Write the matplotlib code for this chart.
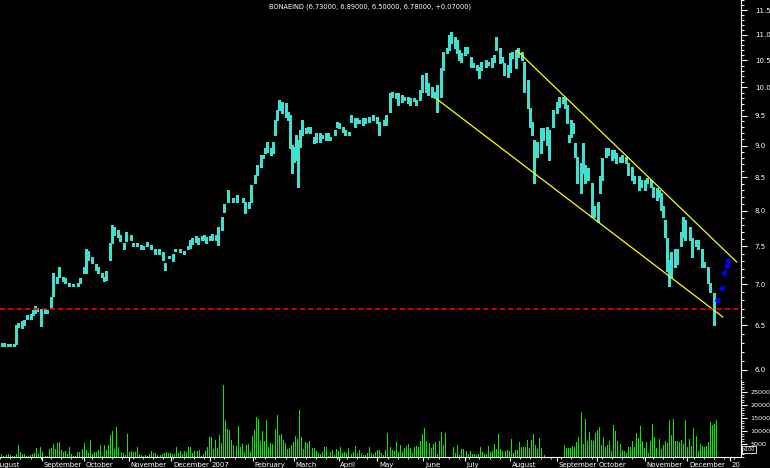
import numpy as np
import matplotlib
matplotlib.use("Agg")
import matplotlib.pyplot as plt
from matplotlib.ticker import FixedLocator, NullFormatter, MultipleLocator

# ==========================================
# DATA
# ==========================================
title = "BONAEIND (6.73000, 6.89000, 6.50000, 6.78000, +0.07000)"

# trading-day number of each price bar, with its high / low
day = [1, 2, 4, 5, 7, 8, 9, 11, 12, 13, 15, 16, 17, 18, 20, 22, 23, 25, 26, 28,
       29, 31, 32, 34, 36, 38, 39, 41, 42, 43, 45, 47, 48, 50, 51, 52, 54, 55, 56, 58,
       59, 61, 62, 64, 65, 67, 69, 70, 72, 74, 76, 78, 80, 81, 83, 85, 86, 88, 90, 92,
       93, 94, 96, 97, 99, 100, 101, 103, 104, 106, 107,
       109, 110, 112, 114, 116, 119, 120, 122, 123, 125, 126, 128, 129, 130, 131, 133, 134, 135, 136, 137,
       138, 140, 141, 142, 143, 144, 145, 146, 147, 148, 150, 151, 152, 154, 155, 157, 158, 160, 161, 162,
       164, 165, 166, 168, 169, 171, 172, 174, 175, 176,
       178, 179, 181, 183, 185, 186, 188, 189, 191, 192, 194, 195, 197, 198, 200, 201, 203, 204, 206, 207,
       209, 210, 212, 213, 214, 216, 217, 219, 220, 221, 223, 224, 225, 226, 228, 229, 231, 232, 234, 235,
       236, 238, 239, 241, 242, 243, 245, 246, 247, 249, 250, 251, 253, 254, 256, 257, 259, 260, 261, 262,
       263, 265, 266, 268, 269,
       271, 273, 274, 276, 277, 278, 279, 280, 281, 282, 283, 285, 286, 287, 288, 290, 291, 293, 294, 295,
       297, 298, 300, 301, 302, 304, 305, 307, 308, 310, 311, 313, 314, 316, 317, 319, 320, 322, 323, 324,
       325, 326, 327, 328, 329, 331, 332, 334, 335, 336, 338, 339, 341, 342, 344, 345, 347, 348, 350]

hi = [6.30, 6.30, 6.29, 6.29, 6.28, 6.51, 6.53, 6.55, 6.56, 6.62, 6.63, 6.68, 6.73, 6.71, 6.70, 6.69, 6.68, 6.84, 7.15, 7.10,
      7.22, 7.09, 7.08, 7.02, 7.01, 7.02, 7.08, 7.22, 7.46, 7.43, 7.35, 7.26, 7.22, 7.15, 7.10, 7.17, 7.55, 7.80, 7.77, 7.73,
      7.66, 7.55, 7.69, 7.65, 7.55, 7.55, 7.52, 7.51, 7.56, 7.52, 7.46, 7.46, 7.42, 7.28, 7.37, 7.39, 7.47, 7.46, 7.44, 7.51,
      7.59, 7.62, 7.64, 7.62, 7.64, 7.66, 7.63, 7.64, 7.67, 7.66, 7.76,
      7.91, 8.09, 8.31, 8.19, 8.23, 8.19, 8.12, 8.13, 8.38, 8.54, 8.69, 8.85, 8.85, 8.96, 9.06, 8.96, 9.06, 9.43, 9.60, 9.78,
      9.74, 9.72, 9.57, 9.51, 9.01, 8.98, 9.18, 9.09, 9.26, 9.43, 9.29, 9.31, 9.31, 9.14, 9.21, 9.21, 9.18, 9.21, 9.21, 9.14,
      9.26, 9.39, 9.38, 9.31, 9.26, 9.22, 9.51, 9.46, 9.46, 9.43,
      9.46, 9.46, 9.48, 9.51, 9.48, 9.39, 9.43, 9.51, 9.90, 9.91, 9.90, 9.90, 9.86, 9.83, 9.83, 9.81, 9.80, 9.78, 9.95, 10.23,
      10.26, 10.08, 10.00, 9.91, 10.04, 10.35, 10.66, 10.74, 10.99, 11.05, 10.95, 10.89, 10.70, 10.64, 10.76, 10.76, 10.56, 10.45, 10.41, 10.37,
      10.47, 10.51, 10.47, 10.55, 10.60, 10.95, 10.74, 10.56, 10.45, 10.41, 10.64, 10.66, 10.70, 10.74, 10.66, 10.47, 10.13, 9.64, 9.39, 9.09,
      9.06, 9.29, 9.29, 9.31, 9.26,
      9.60, 9.74, 9.83, 9.83, 9.81, 9.69, 9.18, 9.43, 9.38, 9.04, 8.82, 8.72, 9.04, 8.69, 8.64, 8.41, 8.06, 8.12, 8.51, 8.80,
      8.96, 8.96, 8.93, 8.93, 8.88, 8.82, 8.85, 8.82, 8.72, 8.66, 8.51, 8.51, 8.46, 8.46, 8.49, 8.46, 8.35, 8.34, 8.31, 8.26,
      8.06, 7.87, 7.62, 7.32, 7.42, 7.46, 7.46, 7.69, 7.91, 7.87, 7.77, 7.62, 7.59, 7.59, 7.46, 7.29, 7.22, 7.02, 6.89]

lo = [6.26, 6.26, 6.26, 6.26, 6.26, 6.29, 6.48, 6.47, 6.50, 6.57, 6.57, 6.62, 6.65, 6.67, 6.49, 6.65, 6.65, 6.72, 6.85, 7.02,
      7.10, 7.04, 7.02, 6.98, 6.98, 6.98, 7.02, 7.15, 7.15, 7.32, 7.28, 7.19, 7.15, 7.09, 7.04, 7.06, 7.32, 7.55, 7.66, 7.63,
      7.57, 7.46, 7.57, 7.59, 7.50, 7.50, 7.47, 7.46, 7.51, 7.46, 7.40, 7.40, 7.32, 7.19, 7.34, 7.30, 7.43, 7.42, 7.40, 7.46,
      7.48, 7.53, 7.56, 7.53, 7.58, 7.59, 7.55, 7.58, 7.59, 7.58, 7.52,
      7.73, 7.98, 8.12, 8.13, 8.12, 8.13, 7.97, 8.04, 8.13, 8.41, 8.54, 8.66, 8.80, 8.88, 8.90, 8.85, 8.88, 9.18, 9.43, 9.60,
      9.55, 9.48, 9.43, 8.96, 8.56, 8.74, 8.77, 8.35, 8.98, 9.18, 9.21, 9.22, 9.21, 9.04, 9.06, 9.06, 9.12, 9.09, 9.09, 9.09,
      9.18, 9.31, 9.29, 9.22, 9.18, 9.18, 9.39, 9.31, 9.38, 9.38,
      9.34, 9.38, 9.39, 9.43, 9.38, 9.18, 9.34, 9.34, 9.56, 9.83, 9.81, 9.69, 9.74, 9.78, 9.72, 9.69, 9.76, 9.69, 9.78, 9.91,
      9.91, 9.86, 9.83, 9.81, 9.56, 9.83, 10.32, 10.64, 10.70, 10.83, 10.74, 10.64, 10.51, 10.47, 10.60, 10.64, 10.37, 10.37, 10.32, 10.17,
      10.32, 10.37, 10.41, 10.37, 10.47, 10.70, 10.45, 10.47, 10.23, 10.19, 10.28, 10.55, 10.35, 10.56, 10.51, 9.91, 9.64, 9.31, 9.18, 8.41,
      8.82, 8.88, 9.09, 9.01, 8.77,
      9.31, 9.55, 9.65, 9.72, 9.64, 9.38, 9.06, 9.14, 9.21, 8.82, 8.41, 8.26, 8.57, 8.41, 8.46, 7.91, 7.91, 7.84, 8.26, 8.46,
      8.82, 8.85, 8.77, 8.80, 8.72, 8.74, 8.74, 8.72, 8.54, 8.46, 8.41, 8.31, 8.35, 8.31, 8.41, 8.35, 8.20, 8.16, 8.20, 8.01,
      7.91, 7.63, 7.17, 6.98, 7.10, 7.23, 7.26, 7.50, 7.63, 7.59, 7.59, 7.36, 7.50, 7.46, 7.23, 7.22, 7.02, 6.90, 6.50]

# daily volume, thousands
volume_k = [1.3, 0.5, 0.8, 1.3, 0.9, 0.5, 0.5, 1.3, 4.7, 2.0, 1.3, 1.3, 0.5, 0.5, 0.9, 1.3, 1.7, 3.6, 1.3, 4.0,
            2.0, 0.4, 0.5, 3.2, 3.6, 5.1, 3.2, 5.5, 5.9, 2.8, 2.0, 2.4, 1.3, 4.0, 1.3, 0.5, 0.5, 2.0, 2.0, 3.2,
            5.5, 2.8, 1.7, 6.7, 1.3, 2.0, 2.0, 2.8, 4.7, 0.5, 4.7, 2.8, 4.7, 8.6, 10.1, 3.2, 11.7, 4.0, 2.0, 1.7,
            0.9, 9.0, 2.0, 2.4, 2.0, 2.0, 4.0, 1.3, 0.9, 0.5, 0.9, 0.5, 1.3, 2.4, 1.7, 1.7, 0.9, 0.9, 1.3, 1.7,
            2.0, 1.7, 1.7, 1.3, 1.3, 4.0, 1.7, 2.4, 1.3, 2.4, 2.0, 4.0, 4.0, 1.7, 2.4, 2.4, 2.8, 0.5, 1.3, 2.4,
            4.0, 7.8, 7.8, 3.2, 6.7, 3.6, 8.6, 5.5, 27.8, 14.4, 10.9, 10.5, 6.7, 4.7, 4.4, 12.1, 4.0, 5.1, 2.0, 4.7,
            5.1, 2.0, 8.2, 10.5, 15.5, 14.7, 6.3, 10.1, 6.3, 14.4, 4.0, 5.5, 5.1, 10.9, 16.3, 8.6, 9.0, 6.7, 5.5, 3.2,
            3.6, 4.7, 5.9, 8.2, 7.1, 18.2, 7.8, 3.2, 5.9, 5.5, 6.3, 3.6, 3.6, 2.4, 1.7, 1.3, 2.0, 4.0, 4.0, 0.5,
            2.0, 2.8, 0.9, 3.2, 2.4, 4.0, 1.7, 2.0, 1.7, 3.6, 1.3, 2.0, 4.4, 1.7, 2.8, 1.7, 0.9, 0.9, 1.7,
            4.0, 1.7, 1.3, 2.0, 2.8, 2.8, 1.7, 0.9, 2.8, 9.4, 4.0, 2.8, 2.4, 5.9, 2.0, 4.7, 2.0, 3.6, 4.4, 5.1,
            3.6, 1.7, 4.0, 4.4, 4.0, 6.3, 9.0, 11.3, 6.3, 5.5, 3.6, 5.1, 5.9, 1.3, 6.3, 9.7, 4.7, 9.4, 0, 0,
            0, 4.0, 1.7, 4.7, 0.9, 3.2, 3.2, 2.4, 1.3, 2.4, 1.3, 1.3, 0.9, 1.3, 4.0, 2.0, 1.3, 1.3, 4.4, 2.0,
            2.4, 5.1, 3.2, 9.0, 3.2, 2.4, 2.4, 2.8, 2.4, 7.1, 1.7, 2.8, 2.8, 5.9, 4.0, 4.0, 4.0, 6.7, 3.6, 6.7,
            9.0, 4.7, 3.2, 7.4, 3.6, 0.9, 0, 0, 0, 0, 0, 0, 0, 0, 0, 4.7, 3.6, 3.6, 3.6, 4.4,
            4.0, 5.9, 7.8, 17.4, 5.1, 14.7, 6.3, 9.7, 6.7, 6.3, 9.4, 10.5, 11.7, 4.7, 7.8, 4.0, 4.7, 6.3, 2.4, 12.4,
            10.1, 6.3, 5.1, 2.8, 2.4, 1.7, 4.0, 4.0, 6.3, 4.0, 9.4, 7.4, 12.1, 6.3, 3.6, 5.9, 1.7, 6.3, 12.8, 7.8,
            3.6, 7.1, 3.2, 4.7, 6.3, 5.5, 14.4, 8.6, 14.7, 6.3, 6.3, 5.9, 6.7, 5.1, 14.4, 4.0, 7.1, 4.4, 11.3, 8.2,
            2.4, 5.1, 4.4, 4.0, 4.4, 5.9, 13.6, 12.4, 12.8, 14.4]

# month start (trading day) and label
month_day = [-3, 20.5, 41, 63, 84, 103, 124, 144, 166, 185, 207.5, 228, 250, 273, 292.5, 316, 337, 358]
month_lbl = ["August", "September", "October", "November", "December", "2007", "February", "March",
             "April", "May", "June", "July", "August", "September", "October", "November", "December", "20"]

# trend channel (day, price) end points
upper_day, upper_px = [253.3, 361.1], [10.69, 7.29]
lower_day, lower_px = [214.1, 354.3], [9.79, 6.60]
support = 6.70

# blue forecast arrows
arrow_day = [352.3, 354.4, 355.6, 356.9, 357.4]
arrow_px = [6.81, 6.96, 7.16, 7.25, 7.32]

# ==========================================
# FIGURE
# ==========================================
W, H = 770, 468
fig = plt.figure(figsize=(W / 100, H / 100), dpi=100, facecolor="black")
XMAX = 741 / 2.04

ax = fig.add_axes([0, (H - 378) / H, 741 / W, 378 / H], facecolor="black")
vax = fig.add_axes([0, (H - 457) / H, 741 / W, 77 / H], facecolor="black")

# price bars
ax.vlines(day, lo, hi, color="#40e0d0", lw=1.8, antialiased=False)
ax.plot(upper_day, upper_px, color="#ffff00", lw=0.9)
ax.plot(lower_day, lower_px, color="#ffff00", lw=0.9)
ax.axhline(support, color="#ff0000", lw=1.2, ls=(0, (3, 2)))
for d, p in zip(arrow_day, arrow_px):
    ax.annotate("", xy=(d + 1.0, p * 1.005), xytext=(d - 1.0, p * 0.995),
                arrowprops=dict(arrowstyle="-|>", color="#0000ff", lw=1.5, mutation_scale=6,
                                shrinkA=0, shrinkB=0))

ax.set_yscale("log")
ax.set_ylim(5.91, 11.71)
ax.set_xlim(0, XMAX)
majors = np.arange(6.0, 11.51, 0.5)
minors = [v for v in np.arange(5.9, 11.71, 0.1) if min(abs(v - majors)) > 0.01]
ax.yaxis.set_major_locator(FixedLocator(majors))
ax.yaxis.set_minor_locator(FixedLocator(minors))
ax.set_yticklabels([f"{v:.1f}" for v in majors])
ax.yaxis.set_minor_formatter(NullFormatter())
ax.yaxis.tick_right()
ax.tick_params(axis="y", which="major", colors="white", labelsize=5, length=4, width=0.8, pad=6)
ax.tick_params(axis="y", which="minor", colors="white", length=2, width=0.8)
ax.set_xticks([])
for s in ["left", "top", "bottom"]:
    ax.spines[s].set_visible(False)
ax.spines["right"].set_color("white")

ax.text(370 / 741, 1 - 7 / 378, title, transform=ax.transAxes,
        color="white", fontsize=4.8, ha="center", va="center")

# volume
vol_day = np.linspace(day[0] - 0.3, day[-1] + 1, len(volume_k))
vax.vlines(vol_day, 0, np.array(volume_k) * 1000, color="#00ee00", lw=0.6, antialiased=False)
vax.set_xlim(0, XMAX)
vax.set_ylim(0, 29600)
vax.yaxis.tick_right()
vax.set_yticks([5000, 10000, 15000, 20000, 25000])
vax.set_yticklabels(["5000", "10000", "15000", "20000", "25000"])
vax.yaxis.set_minor_locator(MultipleLocator(1000))
vax.tick_params(axis="y", which="major", colors="white", labelsize=4.6, length=4, width=0.8, pad=3)
vax.tick_params(axis="y", which="minor", colors="white", length=2, width=0.6)
vax.set_xticks(month_day[1:])
vax.set_xticklabels([])
vax.xaxis.set_minor_locator(MultipleLocator(5))
vax.tick_params(axis="x", which="major", colors="white", length=3, width=0.8, direction="out")
vax.tick_params(axis="x", which="minor", colors="white", length=1.5, width=0.6, direction="out")
for s in ["left", "top"]:
    vax.spines[s].set_visible(False)
vax.spines["right"].set_color("white")
vax.spines["bottom"].set_color("white")

for d, lbl in zip(month_day, month_lbl):
    vax.text(d + 0.8, -0.06, lbl, transform=vax.get_xaxis_transform(), color="white",
             fontsize=5, ha="left", va="top", clip_on=False)

vax.text(1.003, 0.1, "x100", transform=vax.transAxes, color="white", fontsize=3.5,
         ha="left", va="center", bbox=dict(boxstyle="square,pad=0.2", fc="black", ec="white", lw=0.6))

fig.savefig("out.png", dpi=100, facecolor="black")
